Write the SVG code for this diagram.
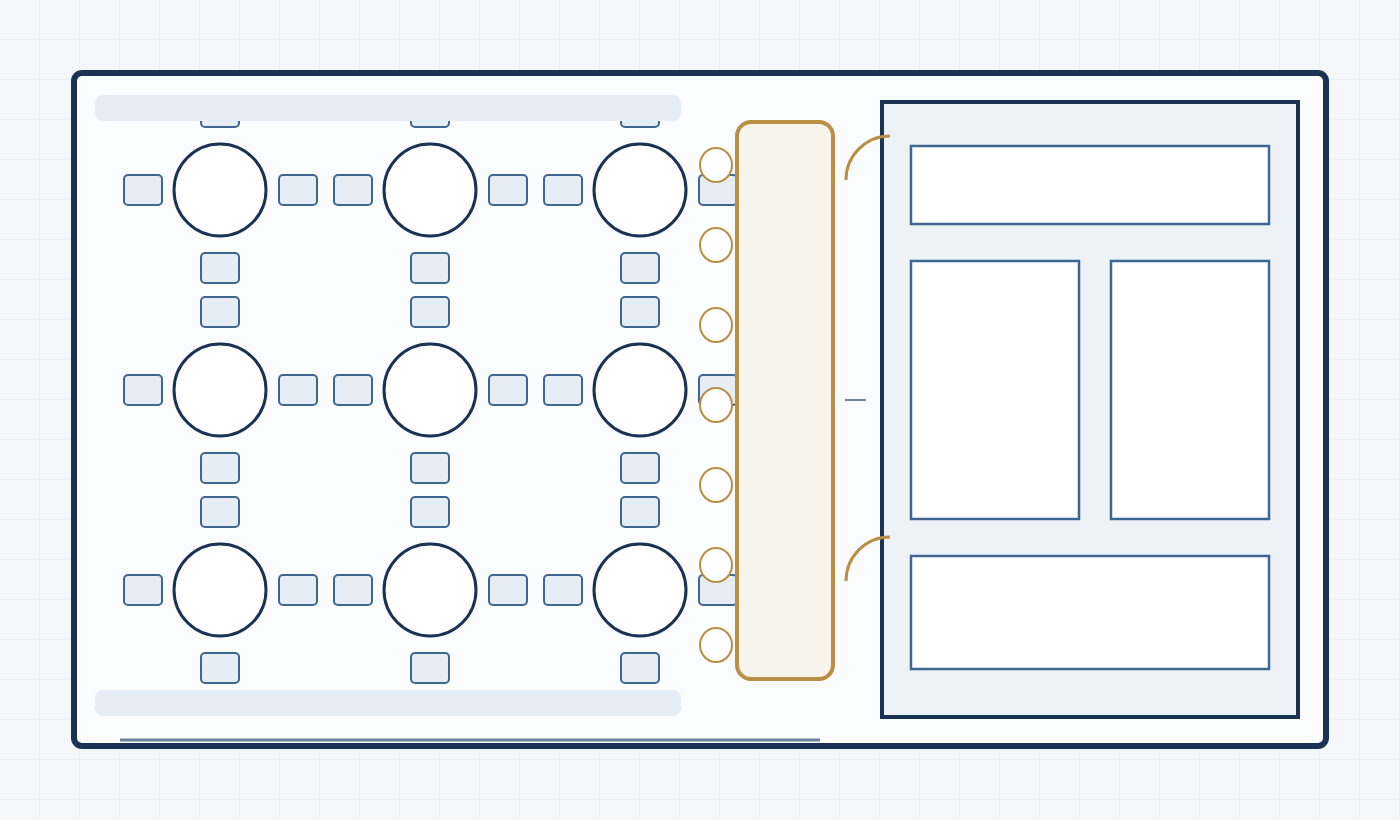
<svg xmlns="http://www.w3.org/2000/svg" width="1400" height="820" viewBox="0 0 1400 820">
<defs>
<pattern id="grid" width="40" height="40" patternUnits="userSpaceOnUse">
<path d="M40 0V40M0 40H40" fill="none" stroke="#e2e8ef" stroke-width="1"/>
</pattern>
<style>
.chair{fill:#e6edf5;stroke:#3f6690;stroke-width:2}
.table{fill:#ffffff;stroke:#1a3354;stroke-width:3}
.stool{fill:#ffffff;stroke:#b88f45;stroke-width:2}
.bar{fill:#e6edf5}
.panel{fill:#ffffff;stroke:#3f6690;stroke-width:2.5}
.door{fill:none;stroke:#b88f45;stroke-width:3}
</style>
<rect id="ch" class="chair" x="-19" y="-15" width="38" height="30" rx="4"/>
</defs>
<rect width="1400" height="820" fill="#f4f7fa"/>
<rect width="1400" height="820" fill="url(#grid)"/>
<rect id="frame" x="74" y="73" width="1252" height="673" rx="8" fill="#fbfcfe" stroke="#1a3354" stroke-width="6"/>
<g id="chairs">
<use href="#ch" x="143" y="190"/><use href="#ch" x="298" y="190"/><use href="#ch" x="220" y="112"/><use href="#ch" x="220" y="268"/>
<use href="#ch" x="353" y="190"/><use href="#ch" x="508" y="190"/><use href="#ch" x="430" y="112"/><use href="#ch" x="430" y="268"/>
<use href="#ch" x="563" y="190"/><use href="#ch" x="718" y="190"/><use href="#ch" x="640" y="112"/><use href="#ch" x="640" y="268"/>
<use href="#ch" x="143" y="390"/><use href="#ch" x="298" y="390"/><use href="#ch" x="220" y="312"/><use href="#ch" x="220" y="468"/>
<use href="#ch" x="353" y="390"/><use href="#ch" x="508" y="390"/><use href="#ch" x="430" y="312"/><use href="#ch" x="430" y="468"/>
<use href="#ch" x="563" y="390"/><use href="#ch" x="718" y="390"/><use href="#ch" x="640" y="312"/><use href="#ch" x="640" y="468"/>
<use href="#ch" x="143" y="590"/><use href="#ch" x="298" y="590"/><use href="#ch" x="220" y="512"/><use href="#ch" x="220" y="668"/>
<use href="#ch" x="353" y="590"/><use href="#ch" x="508" y="590"/><use href="#ch" x="430" y="512"/><use href="#ch" x="430" y="668"/>
<use href="#ch" x="563" y="590"/><use href="#ch" x="718" y="590"/><use href="#ch" x="640" y="512"/><use href="#ch" x="640" y="668"/>
</g>
<rect id="bar-top" class="bar" x="95" y="95" width="586" height="26" rx="8"/>
<rect id="bar-bottom" class="bar" x="95" y="690" width="586" height="26" rx="8"/>
<g id="tables">
<circle class="table" cx="220" cy="190" r="46"/><circle class="table" cx="430" cy="190" r="46"/><circle class="table" cx="640" cy="190" r="46"/>
<circle class="table" cx="220" cy="390" r="46"/><circle class="table" cx="430" cy="390" r="46"/><circle class="table" cx="640" cy="390" r="46"/>
<circle class="table" cx="220" cy="590" r="46"/><circle class="table" cx="430" cy="590" r="46"/><circle class="table" cx="640" cy="590" r="46"/>
</g>
<g id="stools">
<ellipse class="stool" cx="716" cy="165" rx="16" ry="17"/>
<ellipse class="stool" cx="716" cy="245" rx="16" ry="17"/>
<ellipse class="stool" cx="716" cy="325" rx="16" ry="17"/>
<ellipse class="stool" cx="716" cy="405" rx="16" ry="17"/>
<ellipse class="stool" cx="716" cy="485" rx="16" ry="17"/>
<ellipse class="stool" cx="716" cy="565" rx="16" ry="17"/>
<ellipse class="stool" cx="716" cy="645" rx="16" ry="17"/>
</g>
<rect id="counter" x="737" y="122" width="96" height="557" rx="14" fill="#f8f4ec" stroke="#b88f45" stroke-width="4"/>
<g id="room">
<rect x="882" y="102" width="416" height="615" fill="#edf2f7" stroke="#1a3354" stroke-width="4"/>
<rect class="panel" x="911" y="146" width="358" height="78"/>
<rect class="panel" x="911" y="261" width="168" height="258"/>
<rect class="panel" x="1111" y="261" width="158" height="258"/>
<rect class="panel" x="911" y="556" width="358" height="113"/>
</g>
<g id="doors">
<path class="door" d="M890 136A44 44 0 0 0 846 180"/>
<path class="door" d="M890 537A44 44 0 0 0 846 581"/>
</g>
<line x1="845" y1="400" x2="866" y2="400" stroke="#6a84a0" stroke-width="2"/>
<line x1="120" y1="740" x2="820" y2="740" stroke="#6a8199" stroke-width="3"/>
</svg>
